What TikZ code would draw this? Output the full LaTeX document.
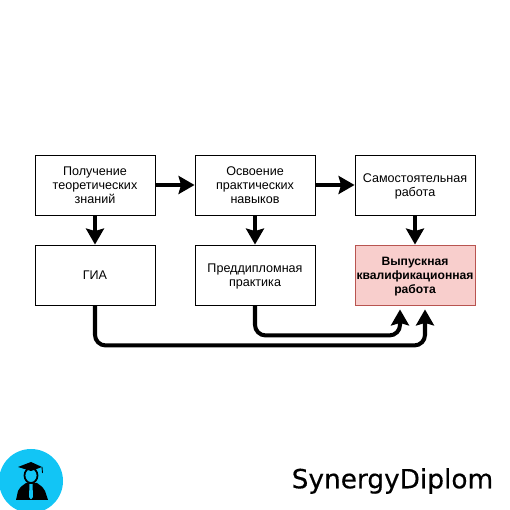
\documentclass[tikz,border=0pt]{standalone}
\usepackage{fontspec}
\setmainfont{Liberation Sans}
\newfontfamily\brandfont[FakeBold=0.4]{DejaVu Sans}
\usetikzlibrary{arrows.meta,calc,positioning}
\definecolor{vkrFill}{HTML}{F8CECC}
\definecolor{vkrLine}{HTML}{B85450}
\definecolor{logoBlue}{HTML}{12C5F5}
\tikzset{
  font=\fontsize{7.15pt}{8pt}\selectfont,
  stage/.style={rectangle, draw=black, line width=0.5pt, fill=white, minimum width=2.4cm, minimum height=1.2cm, align=center, inner sep=0pt, text depth=0pt},
  thesis/.style={stage, draw=vkrLine, fill=vkrFill, font=\fontsize{6.9pt}{8pt}\selectfont\bfseries},
  arrow/.style={-{Stealth[length=3.2mm,width=3.6mm,inset=0.5mm]}, draw=black, line width=2.3pt},
  bendarrow/.style={arrow, rounded corners=6pt},
  brand/.style={font=\fontsize{15pt}{18pt}\selectfont\brandfont, inner sep=0pt}
}
\begin{document}
\begin{tikzpicture}[x=1cm,y=1cm]
\useasboundingbox (0,0) rectangle (10.2,10.2);

% top row
\node[stage] (theory) at (1.9,6.5) {Получение\\теоретических\\знаний};
\node[stage] (skills) at (5.1,6.5) {Освоение\\практических\\навыков};
\node[stage] (selfwork) at (8.3,6.5) {Самостоятельная\\работа};

% bottom row
\node[stage] (gia) at (1.9,4.7) {ГИА};
\node[stage] (prepractice) at (5.1,4.7) {Преддипломная\\практика};
\node[thesis] (vkr) at (8.3,4.7) {Выпускная\\квалификационная\\работа};

\draw[arrow] (theory.east) -- (skills.west);
\draw[arrow] (skills.east) -- (selfwork.west);
\draw[arrow] (theory.south) -- (gia.north);
\draw[arrow] (skills.south) -- (prepractice.north);
\draw[arrow] (selfwork.south) -- (vkr.north);

\coordinate (vkrInA) at ($(vkr.south)+(-0.3,-0.08)$);
\coordinate (vkrInB) at ($(vkr.south)+(0.2,-0.08)$);
\draw[bendarrow] (prepractice.south) -- ++(0,-0.6) -| (vkrInA);
\draw[bendarrow] (gia.south) -- ++(0,-0.8) -| (vkrInB);

% logo
\node[circle, fill=logoBlue, minimum size=1.28cm, inner sep=0pt] (logo) at (0.62,0.58) {};
\fill[black] (0.32,0.2) -- (0.36,0.38) .. controls (0.4,0.46) and (0.46,0.5) .. (0.52,0.54) -- (0.74,0.54) .. controls (0.8,0.5) and (0.86,0.46) .. (0.9,0.38) -- (0.96,0.2) -- cycle;
\fill[logoBlue] (0.59,0.52) -- (0.65,0.52) -- (0.66,0.26) -- (0.62,0.21) -- (0.58,0.26) -- cycle;
\draw[black, line width=1pt, fill=logoBlue] (0.62,0.69) ellipse (0.13 and 0.15);
\fill[black] (0.36,0.86) -- (0.62,0.96) -- (0.84,0.86) -- (0.62,0.78) -- cycle;
\draw[black, line width=0.5pt] (0.84,0.86) -- (0.85,0.74);

\node[brand, anchor=east] (brandname) at (9.87,0.58) {SynergyDiplom};
\end{tikzpicture}
\end{document}
